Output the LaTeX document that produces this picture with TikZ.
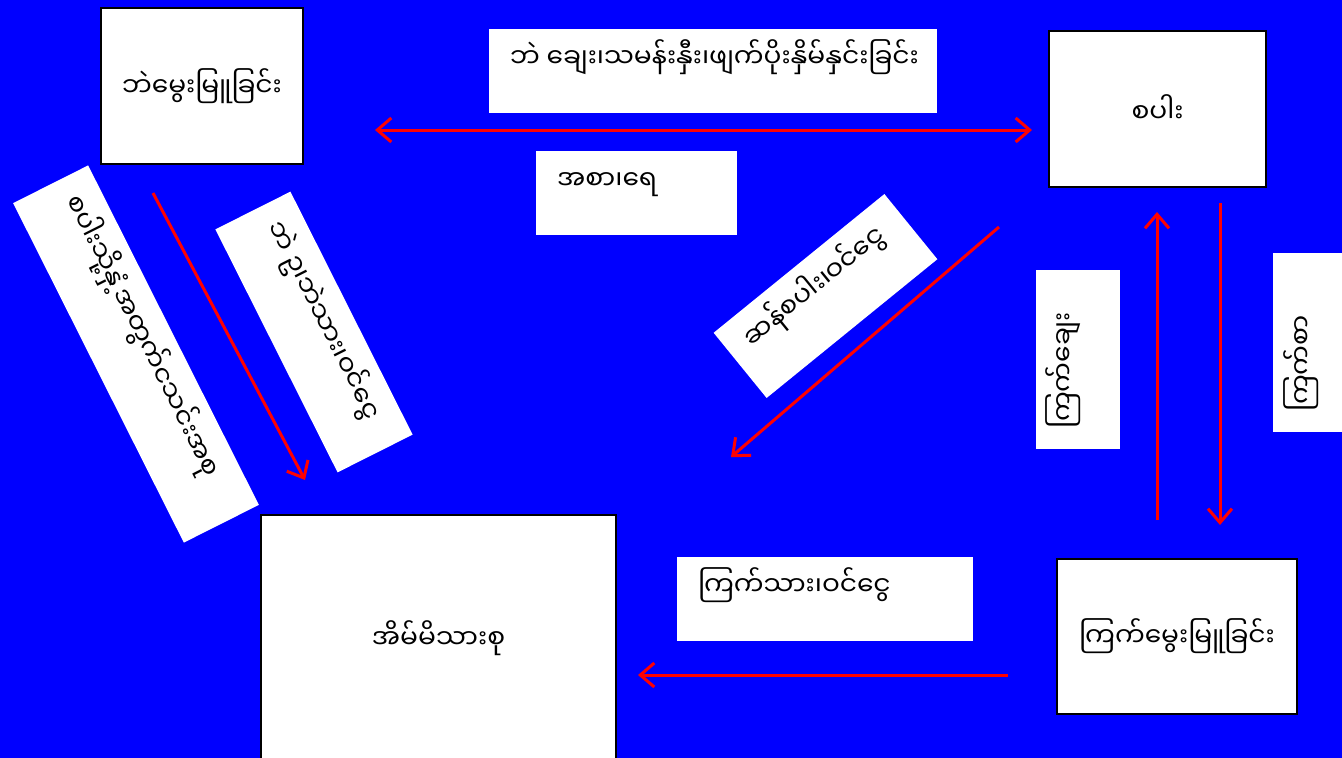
\documentclass[tikz,border=0pt]{standalone}
\usepackage{fontspec}
\newfontfamily\mya[Script=Myanmar]{Noto Sans Myanmar UI}
\usetikzlibrary{arrows.meta}
\begin{document}
\begin{tikzpicture}[x=1pt,y=-1pt,
  box/.style={draw=black, line width=2.5pt, fill=white, inner sep=0pt,
    font=\mya\fontsize{26.5}{30}\selectfont},
  lab/.style={fill=white, inner xsep=21pt, inner ysep=0pt,
    text height=38pt, text depth=46pt, font=\mya\fontsize{26.5}{30}\selectfont},
  arr/.style={draw=red, line width=3pt, -{Straight Barb[length=14pt,width=24pt]}},
  darr/.style={draw=red, line width=3pt, {Straight Barb[length=14pt,width=24pt]}-{Straight Barb[length=14pt,width=24pt]}}]
\useasboundingbox (0,0) rectangle (1342,758);
\fill[blue] (0,0) rectangle (1342,758);

% main nodes
\node[box, minimum width=202pt, minimum height=156pt] (duck) at (202,86) {ဘဲမွေးမြူခြင်း};
\node[box, minimum width=217pt, minimum height=156pt] (rice) at (1157.5,109) {စပါး};
\node[box, minimum width=355pt, minimum height=246pt] (house) at (438.5,638) {အိမ်မိသားစု};
\node[box, minimum width=240pt, minimum height=155pt] (chicken) at (1177,636.5) {ကြက်မွေးမြူခြင်း};

% labels
\node[lab] (l1) at (713,71) {\makebox[406pt][l]{ဘဲ ချေး၊သမန်းနှီး၊ဖျက်ပိုးနှိမ်နှင်းခြင်း}};
\node[lab] (l2) at (636.5,193) {\makebox[159pt][l]{အစာ၊ရေ}};
\node[lab] (l3) at (825,599) {\makebox[254pt][l]{ကြက်သား၊ဝင်ငွေ}};
\node[lab, rotate=39.1] (l4) at (825.5,296) {\makebox[178pt][l]{ဆန်စပါး၊ဝင်ငွေ}};
\node[lab, rotate=-63.3] (l5) at (136,354) {\makebox[338pt][l]{စပါးသို့နှံ့အတွက်ငသင်းအစု}};
\node[lab, rotate=-63.3] (l6) at (314,332) {\makebox[230pt][l]{ဘဲ ဥ၊ဘဲသား၊ဝင်ငွေ}};
\node[lab, rotate=90] (l7) at (1077.5,359.5) {\makebox[137pt][l]{ကြက်ချေး}};
\node[lab, rotate=90] (l8) at (1315,342.5) {\makebox[137pt][l]{ကြက်စာ}};

% connector end points
\coordinate (duckR) at (375,130);
\coordinate (riceL) at (1032,130);
\coordinate (duckB) at (153,193);
\coordinate (houseT) at (305,480);
\coordinate (riceBL) at (999,227);
\coordinate (houseR) at (731,457);
\coordinate (chickTL) at (1157,520);
\coordinate (riceBa) at (1157,212);
\coordinate (riceBb) at (1220,203);
\coordinate (chickTR) at (1220,525);
\coordinate (chickL) at (1008,675);
\coordinate (houseE) at (638,675);

\draw[darr] (duckR) -- (riceL);
\draw[arr] (duckB) -- (houseT);
\draw[arr] (riceBL) -- (houseR);
\draw[arr] (chickTL) -- (riceBa);
\draw[arr] (riceBb) -- (chickTR);
\draw[arr] (chickL) -- (houseE);
\end{tikzpicture}
\end{document}
